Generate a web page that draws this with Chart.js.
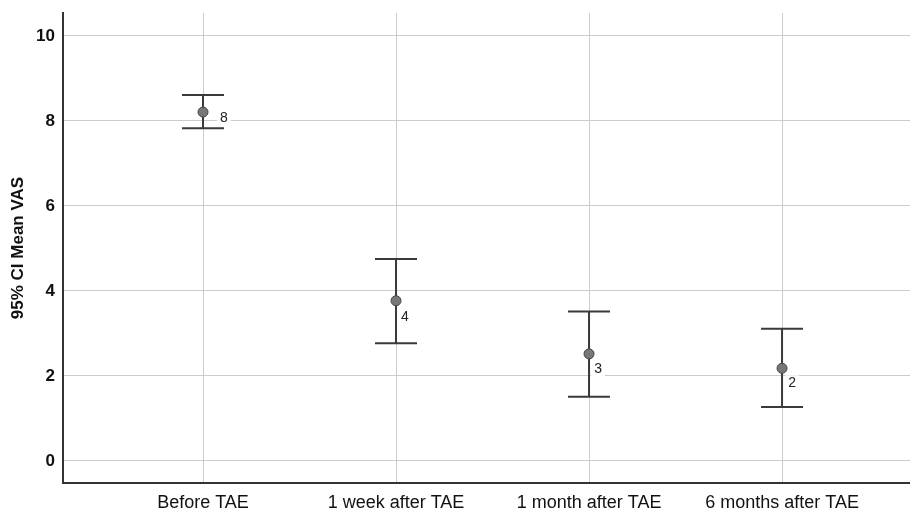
<!DOCTYPE html>
<html>
<head>
<meta charset="utf-8">
<title>95% CI Mean VAS</title>
<script src="https://cdn.jsdelivr.net/npm/chart.js@4/dist/chart.umd.min.js"></script>
<style>
    body { margin: 0; background: #fff; overflow: hidden; }
    #wrap { width: 910px; height: 510px; position: relative; }
</style>
</head>
<body>
<div id="wrap"><canvas id="vasChart"></canvas></div>
<script>
const categories = ['Before TAE', '1 week after TAE', '1 month after TAE', '6 months after TAE'];
const meanVas = [8.21, 3.77, 2.52, 2.18];
const ciLower = [7.83, 2.77, 1.51, 1.27];
const ciUpper = [8.61, 4.75, 3.52, 3.11];
const pointLabels = ['8', '4', '3', '2'];
const yTicks = [0, 2, 4, 6, 8, 10];

// error bars drawn under the mean points
const errorBars = {
    id: 'errorBars',
    beforeDatasetsDraw(chart) {
        const { ctx, scales: { x, y } } = chart;
        ctx.save();
        ctx.strokeStyle = '#3a3a3a';
        ctx.lineWidth = 2;
        categories.forEach((c, i) => {
            const px = x.getPixelForValue(i);
            const top = y.getPixelForValue(ciUpper[i]);
            const bot = y.getPixelForValue(ciLower[i]);
            ctx.beginPath();
            ctx.moveTo(px, top); ctx.lineTo(px, bot);
            ctx.moveTo(px - 21, top); ctx.lineTo(px + 21, top);
            ctx.moveTo(px - 21, bot); ctx.lineTo(px + 21, bot);
            ctx.stroke();
        });
        ctx.restore();
    },
    afterDatasetsDraw(chart) {
        const { ctx, scales: { x, y } } = chart;
        const offsets = [[21, 6], [9, 16], [9, 15], [10, 15]];
        ctx.save();
        ctx.font = '14px "Liberation Sans", Arial, sans-serif';
        ctx.textAlign = 'center';
        ctx.textBaseline = 'middle';
        pointLabels.forEach((t, i) => {
            const lx = x.getPixelForValue(i) + offsets[i][0];
            const ly = y.getPixelForValue(meanVas[i]) + offsets[i][1];
            const w = ctx.measureText(t).width + 6;
            ctx.fillStyle = '#fff';
            ctx.fillRect(lx - w / 2, ly - 8, w, 16);
            ctx.fillStyle = '#222';
            ctx.fillText(t, lx, ly);
        });
        ctx.restore();
    }
};

const ctx = document.getElementById('vasChart').getContext('2d');
new Chart(ctx, {
    type: 'scatter',
    data: {
        datasets: [{
            label: 'Mean VAS',
            data: meanVas.map((v, i) => ({ x: i, y: v })),
            backgroundColor: '#777',
            borderColor: '#444',
            borderWidth: 1,
            pointRadius: 5
        }]
    },
    plugins: [errorBars],
    options: {
        responsive: true,
        maintainAspectRatio: false,
        animation: false,
        layout: { autoPadding: false, padding: { top: 13, right: 0, left: 0, bottom: 0 } },
        plugins: {
            legend: { display: false },
            tooltip: { enabled: false }
        },
        scales: {
            x: {
                type: 'linear',
                min: -0.7254,
                max: 3.663,
                afterBuildTicks: s => { s.ticks = categories.map((c, i) => ({ value: i })); },
                afterFit: s => { s.height = 27; s.paddingLeft = 0; s.paddingRight = 0; },
                grid: { color: '#cccccc', lineWidth: 1, drawTicks: false },
                border: { color: '#333', width: 2 },
                ticks: {
                    padding: 9,
                    maxRotation: 0,
                    autoSkip: false,
                    color: '#111',
                    font: { family: '"Liberation Sans", Arial, sans-serif', size: 18 },
                    callback: v => categories[v]
                }
            },
            y: {
                min: -0.518,
                max: 10.541,
                afterBuildTicks: s => { s.ticks = yTicks.map(v => ({ value: v })); },
                afterFit: s => { s.width = 63; s.paddingTop = 0; s.paddingBottom = 0; },
                grid: { color: '#cccccc', lineWidth: 1, drawTicks: false },
                border: { color: '#333', width: 2 },
                ticks: {
                    padding: 8,
                    color: '#111',
                    font: { family: '"Liberation Sans", Arial, sans-serif', size: 17, weight: 'bold' }
                },
                title: {
                    display: true,
                    text: '95% CI Mean VAS',
                    color: '#111',
                    padding: { top: 8, bottom: 0 },
                    font: { family: '"Liberation Sans", Arial, sans-serif', size: 17, weight: 'bold' }
                }
            }
        }
    }
});
</script>
</body>
</html>
